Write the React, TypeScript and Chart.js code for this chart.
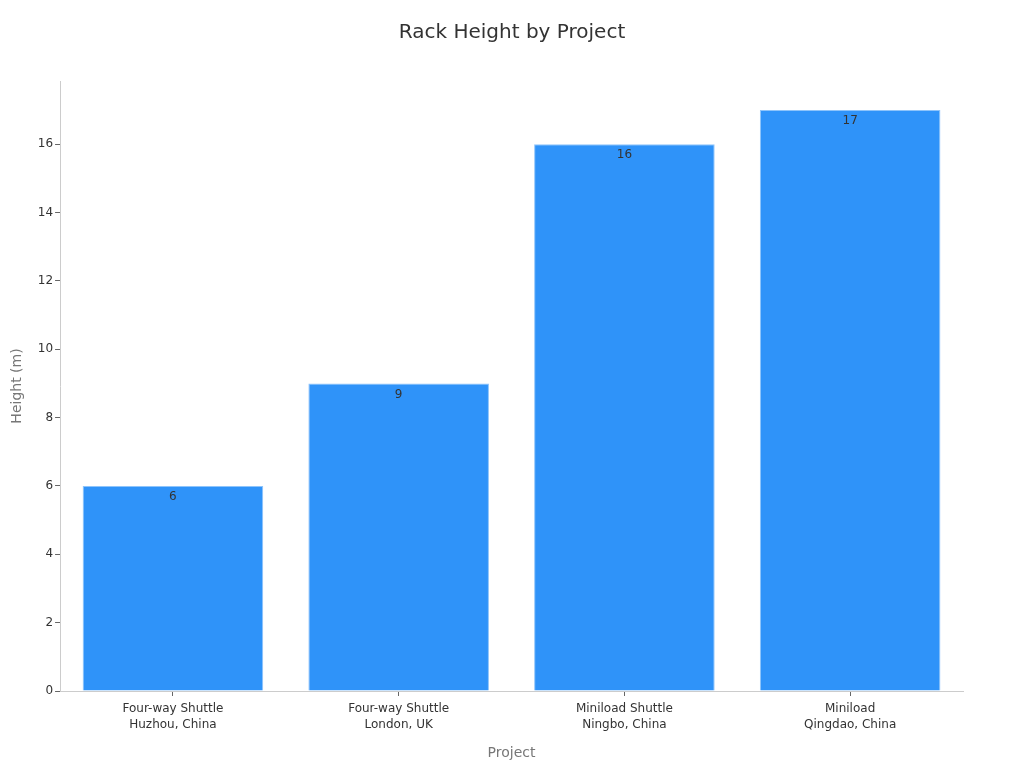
import React, { useEffect, useRef } from "react";
import { Chart, registerables } from "chart.js";

Chart.register(...registerables);

const categories: string[][] = [
  ["Four-way Shuttle", "Huzhou, China"],
  ["Four-way Shuttle", "London, UK"],
  ["Miniload Shuttle", "Ningbo, China"],
  ["Miniload", "Qingdao, China"],
];
const heights: number[] = [6, 9, 16, 17];
const yTicks: number[] = [0, 2, 4, 6, 8, 10, 12, 14, 16];
const titleText = "Rack Height by Project";

const FONT = "'DejaVu Sans', sans-serif";

const valueLabels = {
  id: "valueLabels",
  afterDatasetsDraw(chart: any) {
    const { ctx } = chart;
    const meta = chart.getDatasetMeta(0);
    ctx.save();
    ctx.font = `12px ${FONT}`;
    ctx.fillStyle = "#333333";
    ctx.textAlign = "center";
    ctx.textBaseline = "top";
    meta.data.forEach((bar: any, i: number) => {
      ctx.fillText(String(heights[i]), bar.x, bar.y + 5);
    });
    ctx.restore();
  },
};

const centeredTitle = {
  id: "centeredTitle",
  afterDraw(chart: any) {
    const { ctx } = chart;
    ctx.save();
    ctx.font = `20px ${FONT}`;
    ctx.fillStyle = "#333333";
    ctx.textAlign = "center";
    ctx.textBaseline = "middle";
    ctx.fillText(titleText, chart.width / 2, 33);
    ctx.restore();
  },
};

export default function App() {
  const ref = useRef<HTMLCanvasElement | null>(null);
  useEffect(() => {
    if (!ref.current) return;
    const chart = new Chart(ref.current, {
      type: "bar",
      data: {
        labels: categories,
        datasets: [
          {
            data: heights,
            backgroundColor: "#2f93f9",
            borderColor: "#8ec4fb",
            borderWidth: 1,
            barPercentage: 0.8,
            categoryPercentage: 1,
          },
        ],
      },
      options: {
        animation: false,
        responsive: true,
        maintainAspectRatio: false,
        layout: { padding: { left: 5, right: 61, top: 81, bottom: 2 } },
        plugins: {
          legend: { display: false },
          tooltip: { enabled: false },
          title: { display: false },
        },
        scales: {
          x: {
            grid: {
              display: true,
              offset: false,
              drawOnChartArea: false,
              drawTicks: true,
              tickLength: 5,
              tickColor: "#666666",
            },
            border: { display: true, color: "#cccccc" },
            ticks: {
              color: "#333333",
              font: { family: FONT, size: 12, lineHeight: 1.3 },
              padding: 5,
              maxRotation: 0,
            },
            title: {
              display: true,
              text: "Project",
              color: "#777777",
              font: { family: FONT, size: 14 },
              padding: { top: 8 },
            },
          },
          y: {
            min: 0,
            max: 17.85,
            afterBuildTicks: (axis: any) => {
              axis.ticks = yTicks.map((v) => ({ value: v }));
            },
            grid: {
              display: true,
              drawOnChartArea: false,
              drawTicks: true,
              tickLength: 5,
              tickColor: "#666666",
            },
            border: { display: true, color: "#cccccc" },
            ticks: {
              color: "#333333",
              font: { family: FONT, size: 12 },
              padding: 2,
            },
            title: {
              display: true,
              text: "Height (m)",
              color: "#777777",
              font: { family: FONT, size: 14 },
              padding: { bottom: 10 },
            },
          },
        },
      },
      plugins: [valueLabels, centeredTitle],
    });
    return () => chart.destroy();
  }, []);
  return (
    <div style={{ position: "absolute", left: 0, top: 0, width: 1024, height: 768, background: "#fff" }}>
      <canvas ref={ref} />
    </div>
  );
}
